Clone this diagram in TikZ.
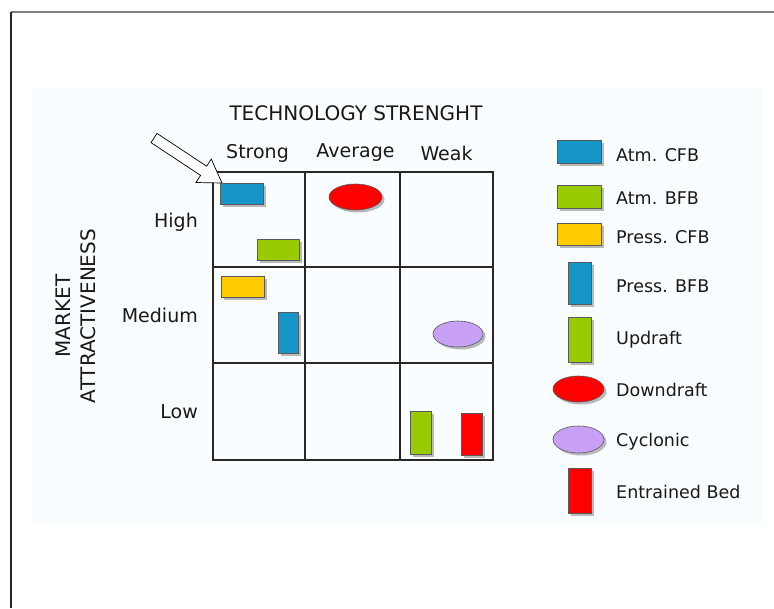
\documentclass[tikz,border=0pt]{standalone}
\usepackage{fontspec}
\setmainfont{DejaVu Sans}
\usetikzlibrary{shadows,shapes.geometric}

\definecolor{cfbblue}{RGB}{22,150,200}
\definecolor{bfbgreen}{RGB}{153,204,0}
\definecolor{pcfbyellow}{RGB}{255,204,0}
\definecolor{downred}{RGB}{255,0,0}
\definecolor{cyclilac}{RGB}{200,160,245}
\definecolor{panelbg}{RGB}{249,253,255}
\definecolor{gridline}{RGB}{40,40,40}

\tikzset{
  fig/.style={inner sep=0pt, outer sep=0pt, draw=black!65, line width=0.6pt,
    drop shadow={shadow xshift=2.5pt, shadow yshift=-2.5pt, fill=black!45, opacity=0.6}},
  hbox/.style={fig, rectangle, minimum width=43pt, minimum height=21pt},
  vbox/.style={fig, rectangle, minimum width=21pt, minimum height=42pt},
  oval/.style={fig, ellipse, minimum width=52pt, minimum height=26pt},
  lbl/.style={inner sep=0pt, text=black!90, font=\fontsize{19}{23}\selectfont},
  keytext/.style={inner sep=0pt, anchor=west, text=black!90, font=\fontsize{17.5}{21}\selectfont},
}

\begin{document}
\begin{tikzpicture}[x=1pt,y=-1pt]
  \useasboundingbox (0,0) rectangle (774,608);

  % page frame and light panel
  \fill[white] (0,0) rectangle (774,608);
  \fill[panelbg] (32,87) rectangle (762,526);
  \draw[black!50, line width=2pt] (11,12) -- (774,12);
  \draw[black!85, line width=2pt] (11,12) -- (11,608);

  % 3x3 matrix
  \draw[gridline, line width=1.8pt] (213,172) rectangle (493,460);
  \draw[gridline, line width=1.8pt] (305,172) -- (305,460);
  \draw[gridline, line width=1.8pt] (400,172) -- (400,460);
  \draw[gridline, line width=1.8pt] (213,267) -- (493,267);
  \draw[gridline, line width=1.8pt] (213,363) -- (493,363);

  % axis titles
  \node[lbl, font=\fontsize{20}{24}\selectfont] (title) at (356,113) {TECHNOLOGY STRENGHT};
  \node[lbl] (cstrong) at (257.5,153) {Strong};
  \node[lbl] (caverage) at (355.5,153) {Average};
  \node[lbl] (cweak) at (446.5,153) {Weak};
  \node[lbl, anchor=east] (rhigh) at (198,222) {High};
  \node[lbl, anchor=east] (rmedium) at (198,315) {Medium};
  \node[lbl, anchor=east] (rlow) at (198,412) {Low};
  \node[inner sep=0pt, rotate=90, align=center, text=black!90,
        font=\fontsize{20}{25.5}\selectfont] (ytitle) at (76,316)
        {MARKET\\ATTRACTIVENESS};

  % pointer arrow
  \draw[black, line width=0.7pt, fill=white, line join=miter]
    (151,142.6) -- (200.6,175.4) -- (195.9,182.5) -- (222,183)
    -- (211.3,159.1) -- (206.6,166.2) -- (157,133.4) -- cycle;

  % technologies placed in the matrix
  \node[hbox, fill=cfbblue] (acfb) at (241.5,193.5) {};
  \node[hbox, fill=bfbgreen, minimum width=42pt] (abfb) at (278,249.5) {};
  \node[oval, fill=downred, minimum width=53pt] (down) at (355.5,197) {};
  \node[hbox, fill=pcfbyellow] (pcfb) at (242.5,286.5) {};
  \node[vbox, fill=cfbblue, minimum width=20pt, minimum height=41pt] (pbfb) at (288,332.5) {};
  \node[oval, fill=cyclilac, minimum width=50pt] (cyc) at (458,334) {};
  \node[vbox, fill=bfbgreen, minimum height=43pt] (updr) at (420.5,432.5) {};
  \node[vbox, fill=downred] (entr) at (471.5,434) {};

  % legend symbols
  \node[hbox, fill=cfbblue, minimum width=44pt, minimum height=23pt] (k1) at (579,151.5) {};
  \node[hbox, fill=bfbgreen, minimum width=44pt, minimum height=23pt] (k2) at (579,196.5) {};
  \node[hbox, fill=pcfbyellow, minimum width=44pt, minimum height=22pt] (k3) at (579,234) {};
  \node[vbox, fill=cfbblue, minimum width=23pt, minimum height=42pt] (k4) at (579.5,283) {};
  \node[vbox, fill=bfbgreen, minimum width=23pt, minimum height=45pt] (k5) at (579.5,339.5) {};
  \node[oval, fill=downred, minimum width=51pt] (k6) at (578.5,389) {};
  \node[oval, fill=cyclilac, minimum width=51pt, minimum height=27pt] (k7) at (578.5,439.5) {};
  \node[vbox, fill=downred, minimum width=23pt, minimum height=45pt] (k8) at (579.5,490.5) {};

  % legend labels
  \node[keytext] (t1) at (616,155) {Atm. CFB};
  \node[keytext] (t2) at (616,198) {Atm. BFB};
  \node[keytext] (t3) at (616,237) {Press. CFB};
  \node[keytext] (t4) at (616,286) {Press. BFB};
  \node[keytext] (t5) at (616,340) {Updraft};
  \node[keytext] (t6) at (616,390) {Downdraft};
  \node[keytext] (t7) at (616,442) {Cyclonic};
  \node[keytext] (t8) at (616,492) {Entrained Bed};
\end{tikzpicture}
\end{document}
